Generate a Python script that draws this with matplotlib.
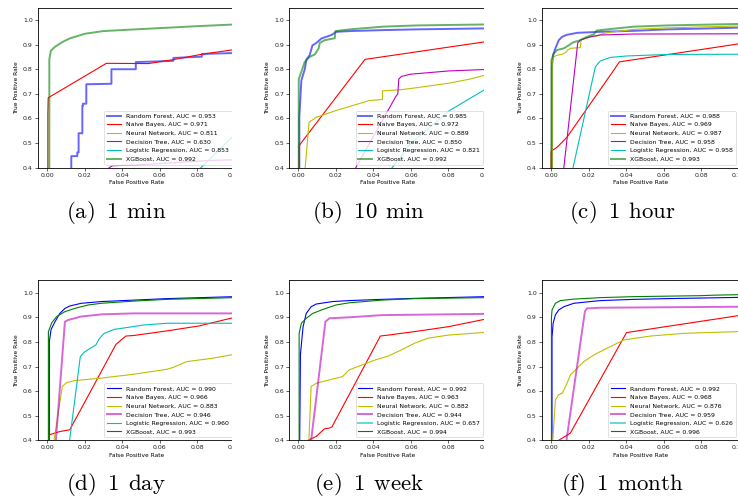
import matplotlib

matplotlib.use("Agg")
import matplotlib.pyplot as plt
from matplotlib.patches import Rectangle

plt.rcParams["mathtext.fontset"] = "cm"

MODELS = ["Random Forest", "Naive Bayes", "Neural Network", "Decision Tree",
          "Logistic Regression", "XGBoost"]
COLORS = ["b", "r", "y", "m", "c", "g"]
CAPTIONS = ["(a) 1 min", "(b) 10 min", "(c) 1 hour", "(d) 1 day", "(e) 1 week", "(f) 1 month"]

# AUC per model (same order as MODELS), one list per horizon
AUC_1MIN = [0.953, 0.971, 0.811, 0.630, 0.853, 0.992]
AUC_10MIN = [0.985, 0.972, 0.889, 0.850, 0.821, 0.992]
AUC_1HOUR = [0.988, 0.969, 0.987, 0.958, 0.958, 0.993]
AUC_1DAY = [0.990, 0.966, 0.883, 0.946, 0.960, 0.993]
AUC_1WEEK = [0.992, 0.963, 0.882, 0.944, 0.657, 0.994]
AUC_1MONTH = [0.992, 0.968, 0.876, 0.959, 0.626, 0.996]

# which curves were drawn heavy (thick, translucent) in each panel
HEAVY_1MIN = ["Random Forest", "XGBoost"]
HEAVY_10MIN = ["Random Forest", "XGBoost"]
HEAVY_1HOUR = ["Random Forest", "XGBoost"]
HEAVY_1DAY = ["Decision Tree"]
HEAVY_1WEEK = ["Decision Tree", "Logistic Regression"]
HEAVY_1MONTH = ["Decision Tree", "Logistic Regression"]

rf_1min = ([0.0129, 0.0129, 0.0161, 0.0161, 0.0168, 0.0168, 0.0188, 0.0188, 0.0191, 0.0191,
            0.0209, 0.0209, 0.0343, 0.0343, 0.0473, 0.0473, 0.0673, 0.0673, 0.0825, 0.0825, 0.1],
           [0.30, 0.447, 0.447, 0.462, 0.462, 0.54, 0.54, 0.652, 0.652, 0.66,
            0.66, 0.739, 0.741, 0.80, 0.80, 0.829, 0.834, 0.846, 0.851, 0.862, 0.866])
nb_1min = ([0.0004, 0.0004, 0.0006, 0.0316, 0.054, 0.068, 0.0825, 0.1],
           [0.0, 0.62, 0.684, 0.824, 0.823, 0.84, 0.861, 0.88])
nn_1min = ([0.0, 0.1], [0.0, 0.33])
dt_1min = ([0.0, 0.033, 0.035, 0.05, 0.088, 0.1], [0.0, 0.40, 0.408, 0.412, 0.43, 0.432])
lr_1min = ([0.0, 0.082, 0.09, 0.1], [0.0, 0.40, 0.46, 0.535])
xgb_1min = ([0.0012, 0.0012, 0.002, 0.004, 0.008, 0.012, 0.02, 0.03, 0.047, 0.06, 0.08, 0.1],
            [0.0, 0.84, 0.875, 0.89, 0.91, 0.925, 0.944, 0.955, 0.962, 0.967, 0.975, 0.982])

rf_10min = ([0.0005, 0.0005, 0.0016, 0.0034, 0.0043, 0.006, 0.0075, 0.0096, 0.0123, 0.0176,
             0.0202, 0.0274, 0.0452, 0.063, 0.1],
            [0.0, 0.605, 0.755, 0.80, 0.84, 0.857, 0.897, 0.907, 0.925, 0.939,
             0.952, 0.955, 0.959, 0.962, 0.966])
nb_10min = ([0.0004, 0.0004, 0.0355, 0.1], [0.0, 0.49, 0.84, 0.912])
nn_10min = ([0.0025, 0.0057, 0.0096, 0.015, 0.0203, 0.0274, 0.038, 0.0448, 0.0448, 0.0548,
             0.063, 0.0807, 0.0914, 0.1],
            [0.3, 0.585, 0.605, 0.619, 0.633, 0.649, 0.673, 0.677, 0.712, 0.717,
             0.725, 0.744, 0.76, 0.777])
dt_10min = ([0.025, 0.0306, 0.052, 0.053, 0.0535, 0.055, 0.06, 0.08, 0.1],
            [0.3, 0.4, 0.69, 0.70, 0.76, 0.771, 0.78, 0.793, 0.799])
lr_10min = ([0.04, 0.06, 0.0807, 0.09, 0.1], [0.3, 0.5, 0.633, 0.675, 0.72])
xgb_10min = ([0.0002, 0.0002, 0.0016, 0.0034, 0.006, 0.0087, 0.0096, 0.0108, 0.0114, 0.014,
              0.0194, 0.0197, 0.0274, 0.0452, 0.063, 0.1],
             [0.0, 0.76, 0.79, 0.83, 0.85, 0.86, 0.87, 0.885, 0.907, 0.918,
              0.926, 0.955, 0.962, 0.973, 0.978, 0.982])

rf_1hour = ([0.0004, 0.0004, 0.0011, 0.0023, 0.0041, 0.0059, 0.0085, 0.014, 0.0263, 0.0441,
             0.062, 0.0798, 0.1],
            [0.0, 0.81, 0.857, 0.885, 0.918, 0.932, 0.94, 0.948, 0.952, 0.956,
             0.962, 0.965, 0.969])
nb_1hour = ([0.0, 0.0, 0.0032, 0.0085, 0.0334, 0.0364, 0.1], [0.0, 0.467, 0.483, 0.524, 0.796, 0.83, 0.903])
nn_1hour = ([0.0006, 0.0006, 0.0014, 0.0032, 0.0059, 0.0076, 0.0089, 0.0103, 0.0156, 0.016,
             0.0192, 0.0245, 0.0281, 0.0316, 0.0441, 0.062, 0.1],
            [0.0, 0.83, 0.85, 0.857, 0.861, 0.867, 0.878, 0.885, 0.888, 0.92,
             0.929, 0.935, 0.946, 0.95, 0.962, 0.968, 0.976])
dt_1hour = ([0.006, 0.0068, 0.0142, 0.0156, 0.021, 0.026, 0.044, 0.1],
            [0.3, 0.4, 0.907, 0.918, 0.932, 0.939, 0.943, 0.944])
lr_1hour = ([0.011, 0.0117, 0.0236, 0.0263, 0.0316, 0.0405, 0.062, 0.1],
            [0.3, 0.4, 0.81, 0.834, 0.848, 0.854, 0.86, 0.861])
xgb_1hour = ([0.0002, 0.0002, 0.0014, 0.0032, 0.0068, 0.0094, 0.0112, 0.013, 0.0148, 0.0192,
              0.0228, 0.0242, 0.0299, 0.0441, 0.062, 0.1],
             [0.0, 0.837, 0.864, 0.878, 0.885, 0.897, 0.907, 0.912, 0.916, 0.932,
              0.942, 0.957, 0.962, 0.973, 0.978, 0.984])

rf_1day = ([0.0012, 0.0012, 0.0021, 0.0042, 0.0068, 0.0095, 0.0121, 0.0182, 0.0288, 0.0463,
            0.0639, 0.1],
           [0.0, 0.80, 0.85, 0.882, 0.916, 0.936, 0.946, 0.957, 0.964, 0.970, 0.976, 0.984])
nb_1day = ([0.0012, 0.0012, 0.0068, 0.0121, 0.0367, 0.042, 0.046, 0.064, 0.081, 0.1],
           [0.0, 0.423, 0.436, 0.443, 0.79, 0.824, 0.826, 0.845, 0.865, 0.9])
nn_1day = ([0.0033, 0.0037, 0.0081, 0.0104, 0.0147, 0.0288, 0.0463, 0.0639, 0.0674, 0.0744,
            0.0884, 0.1],
           [0.3, 0.4, 0.619, 0.635, 0.643, 0.653, 0.669, 0.689, 0.697, 0.72, 0.734, 0.75])
dt_1day = ([0.0042, 0.0047, 0.0095, 0.0112, 0.018, 0.029, 0.046, 0.1],
           [0.3, 0.4, 0.882, 0.889, 0.903, 0.912, 0.916, 0.916])
lr_1day = ([0.011, 0.012, 0.0177, 0.02, 0.026, 0.028, 0.0305, 0.0358, 0.043, 0.0516, 0.064, 0.1],
           [0.3, 0.4, 0.74, 0.76, 0.788, 0.815, 0.835, 0.851, 0.859, 0.869, 0.876, 0.876])
xgb_1day = ([0.0007, 0.0007, 0.0025, 0.0051, 0.0095, 0.0147, 0.0218, 0.0288, 0.0463, 0.0639, 0.1],
            [0.0, 0.842, 0.878, 0.903, 0.923, 0.936, 0.95, 0.957, 0.966, 0.973, 0.98])

rf_1week = ([0.0007, 0.0007, 0.0011, 0.0025, 0.0042, 0.0068, 0.0095, 0.0182, 0.027, 0.0446,
             0.0621, 0.1],
            [0.0, 0.40, 0.75, 0.862, 0.916, 0.943, 0.954, 0.964, 0.968, 0.973, 0.977, 0.984])
nb_1week = ([0.002, 0.005, 0.0095, 0.0139, 0.0165, 0.0179, 0.0437, 0.048, 0.062, 0.08, 0.1],
            [0.39, 0.4, 0.416, 0.447, 0.45, 0.455, 0.824, 0.828, 0.842, 0.862, 0.893])
nn_1week = ([0.0053, 0.0056, 0.0068, 0.0095, 0.0165, 0.0235, 0.0253, 0.027, 0.034, 0.041,
             0.048, 0.055, 0.062, 0.069, 0.08, 0.1],
            [0.3, 0.4, 0.619, 0.632, 0.646, 0.659, 0.673, 0.686, 0.707, 0.727,
             0.743, 0.768, 0.795, 0.815, 0.828, 0.839])
dt_1week = ([0.006, 0.0068, 0.0144, 0.0165, 0.027, 0.0446, 0.1],
            [0.3, 0.4, 0.882, 0.896, 0.9, 0.909, 0.914])
lr_1week = ([0.0, 0.1], [0.0, 0.35])
xgb_1week = ([0.0004, 0.0004, 0.0016, 0.0042, 0.0077, 0.013, 0.02, 0.027, 0.0446, 0.0621, 0.1],
             [0.0, 0.835, 0.876, 0.896, 0.916, 0.932, 0.95, 0.959, 0.97, 0.976, 0.98])

rf_1month = ([0.0005, 0.0005, 0.0011, 0.0023, 0.0041, 0.0068, 0.0121, 0.0263, 0.0441, 0.062, 0.1],
             [0.0, 0.82, 0.876, 0.91, 0.93, 0.943, 0.957, 0.968, 0.973, 0.976, 0.981])
nb_1month = ([0.002, 0.004, 0.0103, 0.0402, 0.1], [0.38, 0.4, 0.43, 0.838, 0.907])
nn_1month = ([0.0007, 0.0009, 0.0023, 0.004, 0.006, 0.0085, 0.0103, 0.0139, 0.0174, 0.0228,
              0.0263, 0.0316, 0.0388, 0.053, 0.0708, 0.1],
             [0.0, 0.4, 0.565, 0.585, 0.592, 0.632, 0.666, 0.693, 0.72, 0.747,
              0.761, 0.781, 0.808, 0.824, 0.835, 0.842])
dt_1month = ([0.007, 0.0082, 0.018, 0.019, 0.0263, 0.1], [0.3, 0.4, 0.923, 0.936, 0.939, 0.943])
lr_1month = ([0.0, 0.1], [0.0, 0.32])
xgb_1month = ([0.0002, 0.0002, 0.0005, 0.0023, 0.005, 0.0121, 0.0263, 0.0441, 0.0798, 0.087, 0.1],
              [0.0, 0.9, 0.93, 0.957, 0.968, 0.974, 0.98, 0.984, 0.988, 0.99, 0.992])

PANELS = [
    ([rf_1min, nb_1min, nn_1min, dt_1min, lr_1min, xgb_1min], AUC_1MIN, HEAVY_1MIN),
    ([rf_10min, nb_10min, nn_10min, dt_10min, lr_10min, xgb_10min], AUC_10MIN, HEAVY_10MIN),
    ([rf_1hour, nb_1hour, nn_1hour, dt_1hour, lr_1hour, xgb_1hour], AUC_1HOUR, HEAVY_1HOUR),
    ([rf_1day, nb_1day, nn_1day, dt_1day, lr_1day, xgb_1day], AUC_1DAY, HEAVY_1DAY),
    ([rf_1week, nb_1week, nn_1week, dt_1week, lr_1week, xgb_1week], AUC_1WEEK, HEAVY_1WEEK),
    ([rf_1month, nb_1month, nn_1month, dt_1month, lr_1month, xgb_1month], AUC_1MONTH, HEAVY_1MONTH),
]

W, H = 738, 501
fig = plt.figure(figsize=(W / 100, H / 100), dpi=100)

# axes boxes in pixels: left, top, width, height
LEFTS = [37.7, 289.0, 541.7]
TOPS = [7.7, 280.4]
AX_W, AX_H = 197.0, 160.0
CAP_X = [116, 369, 622]
CAP_Y = [213, 485]

for i, (curves, aucs, heavy) in enumerate(PANELS):
    r, c = divmod(i, 3)
    left, top = LEFTS[c], TOPS[r]
    ax = fig.add_axes([left / W, 1 - (top + AX_H) / H, AX_W / W, AX_H / H])
    for name, col, (fpr, tpr), auc in zip(MODELS, COLORS, curves, aucs):
        if name in heavy:
            ax.plot(fpr, tpr, color=col, lw=1.4, alpha=0.6, label=f"{name}, AUC = {auc:.3f}")
        else:
            ax.plot(fpr, tpr, color=col, lw=0.8, label=f"{name}, AUC = {auc:.3f}")
    ax.set_xlim(-0.005, 0.1)
    ax.set_ylim(0.4, 1.05)
    ax.set_xticks([0.0, 0.02, 0.04, 0.06, 0.08, 0.10])
    ax.set_yticks([0.4, 0.5, 0.6, 0.7, 0.8, 0.9, 1.0])
    ax.tick_params(labelsize=4.5, length=2, width=0.5, pad=1.5, colors="#222222")
    for s in ax.spines.values():
        s.set_linewidth(0.6)
    ax.set_xlabel("False Positive Rate", fontsize=4.2, labelpad=2)
    ax.set_ylabel("True Positive Rate", fontsize=4.2, labelpad=3)
    leg = ax.legend(loc="lower right", fontsize=4.4, handlelength=2.3, borderpad=0.45,
                    labelspacing=0.55, handletextpad=0.8, framealpha=0.8, borderaxespad=0.5)
    leg.get_frame().set_linewidth(0.5)
    label, rest = CAPTIONS[i].split(" ", 1)
    fig.text(CAP_X[c] / W, 1 - CAP_Y[r] / H,
             r"$\mathrm{%s}\;\;\mathrm{%s}$" % (label, rest.replace(" ", r"\;\,")),
             ha="center", va="center", fontsize=16.5)

# the sub-figures were cropped just left of x = 0.1: hide what spills past the crop
for x0, x1 in [(231.5, 262), (483.5, 514)]:
    fig.add_artist(Rectangle((x0 / W, 0), (x1 - x0) / W, 1, transform=fig.transFigure,
                             facecolor="white", edgecolor="none", zorder=10))

fig.savefig("out.png", dpi=100)
